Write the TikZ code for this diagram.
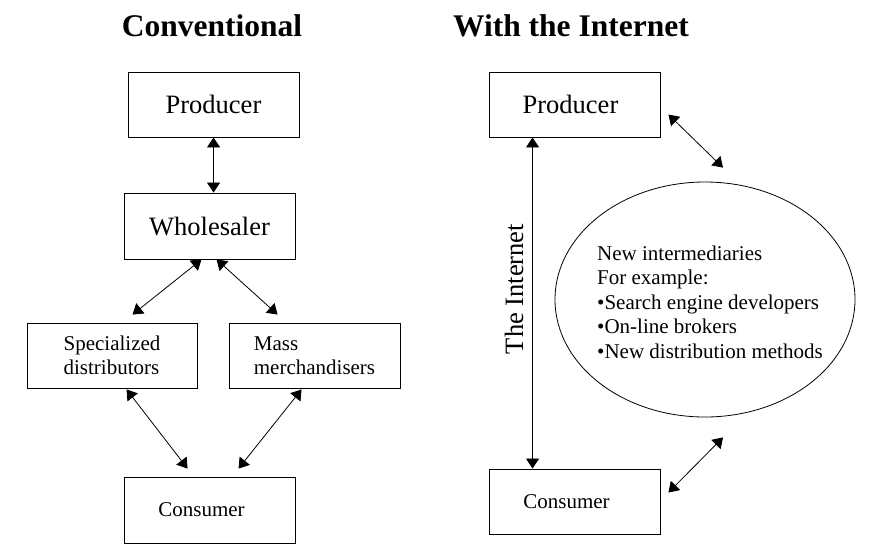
\documentclass[tikz,border=0pt]{standalone}
\usepackage{fontspec}
\setmainfont{Liberation Serif}
\usetikzlibrary{arrows.meta,shapes.geometric}
\begin{document}
\begin{tikzpicture}[x=1pt,y=-1pt,
  big/.style={font=\fontsize{26.5}{30}\selectfont},
  small/.style={font=\fontsize{21}{24.5}\selectfont},
  ttl/.style={font=\fontsize{31.5}{36}\selectfont\bfseries, anchor=base},
  box/.style={draw, line width=0.9pt, minimum width=171pt, minimum height=65pt, inner sep=0pt},
  conn/.style={line width=0.8pt, {Triangle[length=10pt,width=13pt]}-{Triangle[length=10pt,width=13pt]}}]
\useasboundingbox (0,0) rectangle (873,558);
% titles
\node[ttl] (t1) at (212,36) {Conventional};
\node[ttl] (t2) at (571,36) {With the Internet};
% left column
\node[box, big] (prod) at (213.5,104.5) {Producer};
\node[box, big, minimum height=66pt] (whole) at (209.5,226) {Wholesaler};
\node[box, small, minimum width=170pt, align=left] (spec) at (112,355.5) {Specialized\\distributors};
\node[box, small, align=left] (mass) at (314.5,355.5) {Mass\\merchandisers};
\node[box, small, minimum height=66pt] (cons) at (209.5,510) {Consumer\hspace*{16pt}};
\draw[conn] ([xshift=86pt]prod.south west) -- ([xshift=90pt]whole.north west);
\draw[conn] ([xshift=78pt]whole.south west) -- ([xshift=106pt,yshift=8pt]spec.north west);
\draw[conn] ([xshift=93pt]whole.south west) -- ([xshift=49pt,yshift=8pt]mass.north west);
\draw[conn] ([xshift=100pt,yshift=-1pt]spec.south west) -- ([xshift=64pt,yshift=8pt]cons.north west);
\draw[conn] ([xshift=73pt,yshift=-1pt]mass.south west) -- ([xshift=115pt,yshift=8pt]cons.north west);
% right column
\node[box, big] (rprod) at (574.5,104.5) {Producer\hspace*{8pt}};
\node[box, small] (rcons) at (574.5,501.5) {Consumer\hspace*{16pt}};
\node[draw, ellipse, line width=0.8pt, minimum width=300pt, minimum height=235pt, inner sep=0pt] (ell) at (705,299.5) {};
\node[small, align=left, anchor=west, inner sep=0pt] (elltxt) at (597,302) {New intermediaries\\For example:\\•Search engine developers\\•On-line brokers\\•New distribution methods};
\node[big, rotate=90] (inet) at (514,289) {The Internet};
\draw[conn] ([xshift=44pt]rprod.south west) -- ([xshift=44pt]rcons.north west);
\draw[conn] ([xshift=8pt,yshift=-43pt]rprod.north east) -- ([xshift=18pt,yshift=14pt]ell.north);
\draw[conn] ([xshift=8pt,yshift=-24pt]rcons.north east) -- ([xshift=18pt,yshift=-20pt]ell.south);
\end{tikzpicture}
\end{document}
